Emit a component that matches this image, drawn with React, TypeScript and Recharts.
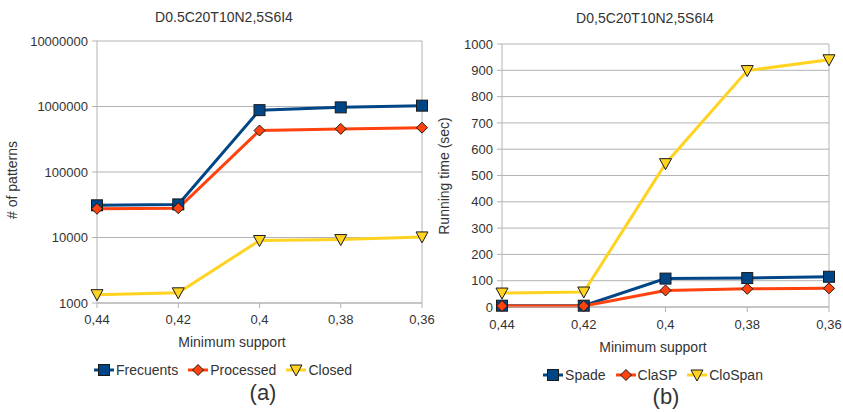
import React from "react";
import {
  LineChart,
  Line,
  XAxis,
  YAxis,
  CartesianGrid,
  ReferenceLine,
} from "recharts";

const supports = ["0,44", "0,42", "0,4", "0,38", "0,36"];

// (a) number of patterns, log scale
const frecuents = [31000, 32000, 880000, 970000, 1030000];
const processed = [27500, 28000, 430000, 455000, 475000];
const closed = [1340, 1430, 9000, 9300, 10200];
const patternTicks = [1000, 10000, 100000, 1000000, 10000000];

// (b) running time in seconds
const spade = [5, 5, 108, 110, 115];
const clasp = [4, 4, 63, 69, 71];
const clospan = [53, 57, 545, 899, 940];
const timeTicks = [0, 100, 200, 300, 400, 500, 600, 700, 800, 900, 1000];

const BLUE = "#004586";
const ORANGE = "#ff420e";
const YELLOW = "#ffd320";
const GRID = "#b3b3b3";
const TEXT = "#333";
const FONT = "'Liberation Sans', Arial, sans-serif";

type Shape = "square" | "diamond" | "triangle";

const leftSeries = [
  { key: "frecuents", name: "Frecuents", color: BLUE, shape: "square" as Shape },
  { key: "processed", name: "Processed", color: ORANGE, shape: "diamond" as Shape },
  { key: "closed", name: "Closed", color: YELLOW, shape: "triangle" as Shape },
];
const rightSeries = [
  { key: "spade", name: "Spade", color: BLUE, shape: "square" as Shape },
  { key: "clasp", name: "ClaSP", color: ORANGE, shape: "diamond" as Shape },
  { key: "clospan", name: "CloSpan", color: YELLOW, shape: "triangle" as Shape },
];

const leftData = supports.map((s, i) => ({
  support: s,
  frecuents: frecuents[i],
  processed: processed[i],
  closed: closed[i],
}));
const rightData = supports.map((s, i) => ({
  support: s,
  spade: spade[i],
  clasp: clasp[i],
  clospan: clospan[i],
}));

function Marker({ cx, cy, shape, color }: { cx: number; cy: number; shape: Shape; color: string }) {
  if (shape === "square") {
    return <rect x={cx - 5.5} y={cy - 5.5} width={11} height={11} fill={color} stroke="#1a1a1a" strokeWidth={1} />;
  }
  if (shape === "diamond") {
    return (
      <polygon
        points={`${cx},${cy - 5.5} ${cx + 5.5},${cy} ${cx},${cy + 5.5} ${cx - 5.5},${cy}`}
        fill={color}
        stroke="#1a1a1a"
        strokeWidth={1}
      />
    );
  }
  return (
    <polygon
      points={`${cx - 6},${cy - 5} ${cx + 6},${cy - 5} ${cx},${cy + 6}`}
      fill={color}
      stroke="#1a1a1a"
      strokeWidth={1}
    />
  );
}

function LegendRow({ items, left, top, width }: { items: typeof leftSeries; left: number; top: number; width: number }) {
  return (
    <div
      style={{
        position: "absolute",
        left,
        top,
        width,
        display: "flex",
        justifyContent: "center",
        gap: 10,
        fontFamily: FONT,
        fontSize: 14,
        color: TEXT,
      }}
    >
      {items.map((it) => (
        <div key={it.key} style={{ display: "flex", alignItems: "center" }}>
          <svg width={20} height={14} style={{ marginRight: 2 }}>
            <line x1={0} y1={7} x2={20} y2={7} stroke={it.color} strokeWidth={3} />
            <Marker cx={10} cy={7} shape={it.shape} color={it.color} />
          </svg>
          <span>{it.name}</span>
        </div>
      ))}
    </div>
  );
}

const tickStyle = { fill: TEXT, fontSize: 13, fontFamily: FONT };

function Label({ text, x, y, size = 14, rotate = false }: { text: string; x: number; y: number; size?: number; rotate?: boolean }) {
  return (
    <div
      style={{
        position: "absolute",
        left: x,
        top: y,
        transform: `translate(-50%, -50%)${rotate ? " rotate(-90deg)" : ""}`,
        whiteSpace: "nowrap",
        fontFamily: FONT,
        fontSize: size,
        color: TEXT,
      }}
    >
      {text}
    </div>
  );
}

export default function App() {
  return (
    <div style={{ position: "absolute", left: 0, top: 0, width: 843, height: 412, background: "#fff", overflow: "hidden" }}>
      <div style={{ position: "absolute", left: 0, top: 0 }}>
        <LineChart width={438} height={340} data={leftData} margin={{ top: 41, right: 16, left: 0, bottom: 0 }}>
          <CartesianGrid vertical={false} stroke={GRID} horizontalValues={patternTicks} />
          <XAxis
            dataKey="support"
            height={37}
            stroke={GRID}
            tick={tickStyle}
            tickSize={5}
            tickMargin={7}
            interval={0}
          />
          <YAxis
            scale="log"
            type="number"
            domain={[1000, 10000000]}
            ticks={patternTicks}
            allowDataOverflow
            width={97}
            stroke={GRID}
            tick={tickStyle}
            tickSize={5}
            tickMargin={4}
            tickFormatter={(v: number) => String(v)}
          />
          <ReferenceLine x="0,36" stroke={GRID} />
          {leftSeries.map((s) => (
            <Line
              key={s.key}
              dataKey={s.key}
              stroke={s.color}
              strokeWidth={3}
              isAnimationActive={false}
              dot={(p: any) => <Marker key={`${s.key}-${p.index}`} cx={p.cx} cy={p.cy} shape={s.shape} color={s.color} />}
            />
          ))}
        </LineChart>
      </div>
      <div style={{ position: "absolute", left: 430, top: 0 }}>
        <LineChart width={413} height={340} data={rightData} margin={{ top: 44, right: 14, left: 0, bottom: 0 }}>
          <CartesianGrid vertical={false} stroke={GRID} />
          <XAxis
            dataKey="support"
            height={33}
            stroke={GRID}
            tick={tickStyle}
            tickSize={5}
            tickMargin={8}
            interval={0}
          />
          <YAxis
            type="number"
            domain={[0, 1000]}
            ticks={timeTicks}
            width={72}
            stroke={GRID}
            tick={tickStyle}
            tickSize={5}
            tickMargin={4}
          />
          <ReferenceLine x="0,36" stroke={GRID} />
          {rightSeries.map((s) => (
            <Line
              key={s.key}
              dataKey={s.key}
              stroke={s.color}
              strokeWidth={3}
              isAnimationActive={false}
              dot={(p: any) => <Marker key={`${s.key}-${p.index}`} cx={p.cx} cy={p.cy} shape={s.shape} color={s.color} />}
            />
          ))}
        </LineChart>
      </div>

      <Label text="D0.5C20T10N2,5S6I4" x={224} y={17} />
      <Label text="D0,5C20T10N2,5S6I4" x={645} y={18} />
      <Label text="# of patterns" x={12} y={180} rotate />
      <Label text="Running time (sec)" x={444} y={176} rotate />
      <Label text="Minimum support" x={232} y={342} />
      <Label text="Minimum support" x={653} y={347} />
      <LegendRow items={leftSeries} left={92} top={362} width={262} />
      <LegendRow items={rightSeries} left={540} top={367} width={226} />
      <Label text="(a)" x={263} y={393} size={22} />
      <Label text="(b)" x={666} y={397} size={22} />
    </div>
  );
}
